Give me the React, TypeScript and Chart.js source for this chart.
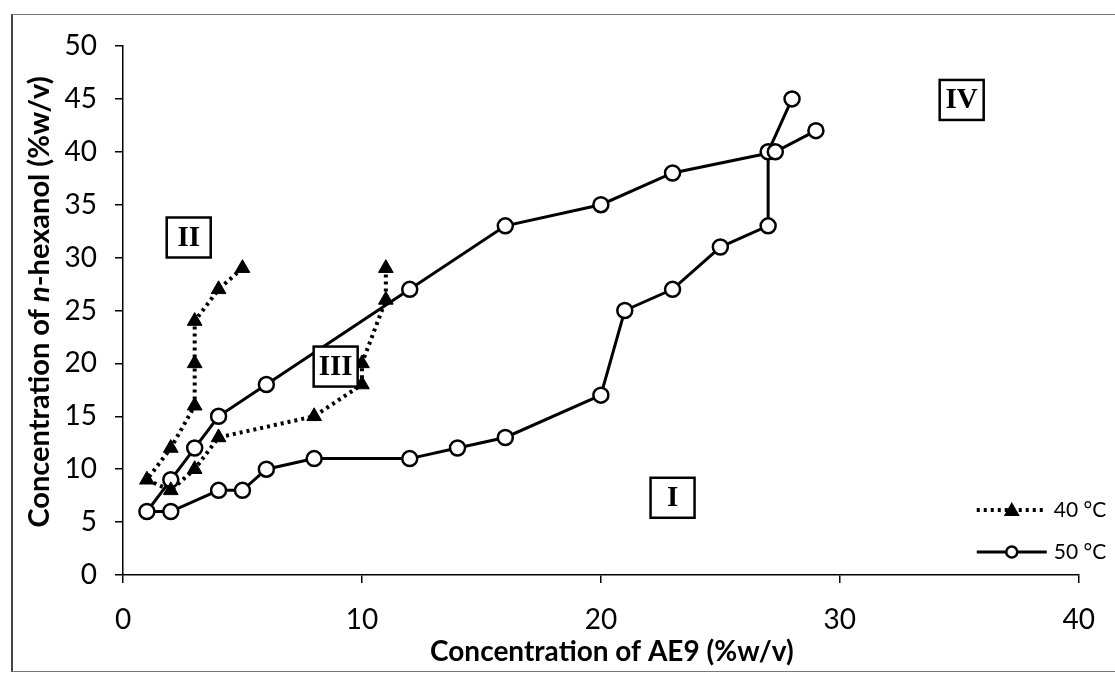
import React, { useEffect, useRef } from "react";
import { Chart, registerables } from "chart.js";

Chart.register(...registerables);

// 40 °C series (triangles, dotted line) in drawing order
const x40 = [5, 4, 3, 3, 3, 2, 1, 2, 3, 4, 8, 10, 10, 11, 11];
const y40 = [29, 27, 24, 20, 16, 12, 9, 8, 10, 13, 15, 18, 20, 26, 29];

// 50 °C series (open circles, solid line) in drawing order
const x50 = [28, 27, 27, 25, 23, 21, 20, 16, 14, 12, 8, 6, 5, 4, 2, 1, 2, 3, 4, 6, 12, 16, 20, 23, 27.3, 29];
const y50 = [45, 40, 33, 31, 27, 25, 17, 13, 12, 11, 11, 10, 8, 8, 6, 6, 9, 12, 15, 18, 27, 33, 35, 38, 40, 42];

// region labels (placed in data coordinates)
const regionLabels = ["I", "II", "III", "IV"];
const regionX = [23, 2.75, 8.9, 35.1];
const regionY = [7.3, 31.9, 19.7, 44.9];

const seriesNames = ["40 °C", "50 °C"];
const xTitle = "Concentration of AE9 (%w/v)";
const yTitleParts = ["Concentration of ", "n", "-hexanol (%w/v)"];

const FONT = "Lato";

const overlay = {
  id: "overlay",
  afterDraw(chart: any) {
    const { ctx, chartArea, scales } = chart;
    const xs = scales.x;
    const ys = scales.y;
    ctx.save();
    // region boxes
    ctx.textAlign = "center";
    ctx.textBaseline = "middle";
    regionLabels.forEach((t, i) => {
      const px = xs.getPixelForValue(regionX[i]);
      const py = ys.getPixelForValue(regionY[i]);
      ctx.fillStyle = "#fff";
      ctx.fillRect(px - 22, py - 20, 44, 40);
      ctx.strokeStyle = "#000";
      ctx.lineWidth = 2.5;
      ctx.strokeRect(px - 22, py - 20, 44, 40);
      ctx.fillStyle = "#000";
      ctx.font = 'bold 29px "Liberation Serif"';
      ctx.fillText(t, px, py + 1);
    });

    // x title
    ctx.fillStyle = "#000";
    ctx.font = `bold 28px ${FONT}`;
    ctx.fillText(xTitle, (chartArea.left + chartArea.right) / 2 + 11, 652);

    // y title with italic n
    ctx.save();
    ctx.translate(40, 302);
    ctx.rotate(-Math.PI / 2);
    const fonts = [`bold 29px ${FONT}`, `italic bold 29px ${FONT}`, `bold 29px ${FONT}`];
    let total = 0;
    const widths = yTitleParts.map((p, i) => {
      ctx.font = fonts[i];
      const w = ctx.measureText(p).width;
      total += w;
      return w;
    });
    let cx = -total / 2;
    ctx.textAlign = "left";
    yTitleParts.forEach((p, i) => {
      ctx.font = fonts[i];
      ctx.fillText(p, cx, 0);
      cx += widths[i];
    });
    ctx.restore();

    // legend
    const lx0 = chartArea.right - 102;
    const lx1 = chartArea.right - 35;
    const lcx = chartArea.right - 67;
    const ly40 = chartArea.bottom - 65;
    const ly50 = chartArea.bottom - 23;
    ctx.strokeStyle = "#000";
    ctx.lineWidth = 4;
    ctx.setLineDash([3, 4]);
    ctx.beginPath();
    ctx.moveTo(lx0, ly40);
    ctx.lineTo(lx1, ly40);
    ctx.stroke();
    ctx.setLineDash([]);
    ctx.fillStyle = "#000";
    ctx.beginPath();
    ctx.moveTo(lcx, ly40 - 8);
    ctx.lineTo(lcx + 8, ly40 + 6);
    ctx.lineTo(lcx - 8, ly40 + 6);
    ctx.closePath();
    ctx.fill();

    ctx.lineWidth = 3;
    ctx.beginPath();
    ctx.moveTo(lx0, ly50);
    ctx.lineTo(lx1 + 3, ly50);
    ctx.stroke();
    ctx.fillStyle = "#fff";
    ctx.lineWidth = 2.5;
    ctx.beginPath();
    ctx.arc(lcx, ly50, 5.5, 0, Math.PI * 2);
    ctx.fill();
    ctx.stroke();

    ctx.fillStyle = "#000";
    ctx.font = `21px ${FONT}`;
    ctx.textAlign = "left";
    ctx.textBaseline = "middle";
    ctx.fillText(seriesNames[0], chartArea.right - 25, ly40);
    ctx.fillText(seriesNames[1], chartArea.right - 25, ly50);
    ctx.restore();
  },
};

export default function App() {
  const ref = useRef<HTMLCanvasElement>(null);
  useEffect(() => {
    if (!ref.current) return;
    const chart = new Chart(ref.current, {
      type: "scatter",
      data: {
        datasets: [
          {
            label: seriesNames[0],
            data: x40.map((v, i) => ({ x: v, y: y40[i] })),
            showLine: true,
            borderColor: "#000",
            backgroundColor: "#000",
            borderWidth: 4,
            borderDash: [3, 4],
            pointStyle: "triangle",
            pointRadius: 8.5,
            pointBorderWidth: 1,
            pointBackgroundColor: "#000",
            pointBorderColor: "#000",
          },
          {
            label: seriesNames[1],
            data: x50.map((v, i) => ({ x: v, y: y50[i] })),
            showLine: true,
            borderColor: "#000",
            backgroundColor: "#fff",
            borderWidth: 3,
            pointStyle: "circle",
            pointRadius: 7.5,
            pointBorderWidth: 2.5,
            pointBackgroundColor: "#fff",
            pointBorderColor: "#000",
          },
        ],
      },
      options: {
        animation: false,
        responsive: false,
        devicePixelRatio: 1,
        layout: { padding: { top: 46, right: 28, left: 0, bottom: 0 } },
        plugins: { legend: { display: false }, tooltip: { enabled: false } },
        scales: {
          x: {
            type: "linear",
            min: 0,
            max: 40,
            ticks: { stepSize: 10, color: "#000", font: { family: FONT, size: 28 }, padding: 20, maxRotation: 0 },
            grid: { display: true, drawOnChartArea: false, drawTicks: true, tickLength: 8, color: "#000", lineWidth: 1.5 },
            border: { display: true, color: "#000", width: 1.5 },
            afterFit: (s: any) => {
              s.height = 99;
            },
          },
          y: {
            type: "linear",
            min: 0,
            max: 50,
            ticks: { stepSize: 5, color: "#000", font: { family: FONT, size: 28 }, padding: 18 },
            grid: { display: true, drawOnChartArea: false, drawTicks: true, tickLength: 8, color: "#000", lineWidth: 1.5 },
            border: { display: true, color: "#000", width: 1.5 },
            afterFit: (s: any) => {
              s.width = 123;
            },
          },
        },
      },
      plugins: [overlay],
    });
    return () => chart.destroy();
  }, []);

  return (
    <div style={{ position: "fixed", left: 0, top: 0, width: 1115, height: 674, background: "#fff" }}>
      <canvas ref={ref} width={1115} height={674} style={{ display: "block" }} />
      <div
        style={{
          position: "absolute",
          left: 11,
          top: 14,
          width: 1110,
          height: 656,
          borderLeft: "2px solid #444",
          borderTop: "1px solid #777",
          borderBottom: "1px solid #777",
          pointerEvents: "none",
        }}
      />
    </div>
  );
}
